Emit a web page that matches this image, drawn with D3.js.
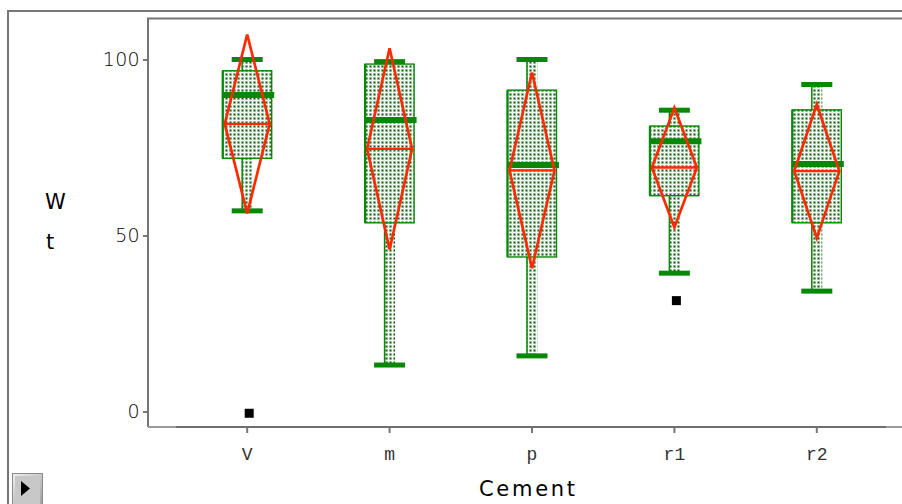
<!DOCTYPE html>
<html>
<head>
<meta charset="utf-8">
<script src="https://cdn.jsdelivr.net/npm/d3@7"></script>
<style>
  html, body { margin: 0; padding: 0; background: #fff; }
  svg { display: block; }
</style>
</head>
<body>
<svg id="chart" width="902" height="504"></svg>
<script>
// Wt by Cement: quantile boxes with mean diamonds
const categories = ["V", "m", "p", "r1", "r2"];
const whiskerLow  = [57.0, 13.2, 15.8, 39.3, 34.2];
const boxLow      = [71.9, 53.6, 43.9, 61.3, 53.6];
const medians     = [89.9, 82.8, 70.0, 76.8, 70.3];
const boxHigh     = [96.8, 98.7, 91.3, 81.1, 85.7];
const whiskerHigh = [100.0, 99.4, 100.0, 85.6, 92.9];
const means       = [81.7, 74.6, 68.5, 69.3, 68.3];
const diamondHalf = [25.4, 28.6, 27.8, 17.0, 19.0];
const outliers    = [{cat: "V", value: -0.5}, {cat: "r1", value: 31.5}];
const yTicks = [0, 50, 100];

const svg = d3.select("#chart");

const x = d3.scaleBand().domain(categories).range([176, 888]);
const y = d3.scaleLinear().domain([0, 100]).range([411.5, 59.5]);

// dotted fill pattern for boxes and whisker stems
const defs = svg.append("defs");
const pat = defs.append("pattern")
  .attr("id", "dots").attr("patternUnits", "userSpaceOnUse")
  .attr("width", 4).attr("height", 4);
pat.append("rect").attr("width", 4).attr("height", 4).attr("fill", "#bfe2bf");
pat.append("rect").attr("x", 0).attr("y", 0).attr("width", 4).attr("height", 1).attr("fill", "#f2fbf2");
pat.append("rect").attr("x", 0).attr("y", 0).attr("width", 1).attr("height", 4).attr("fill", "#f2fbf2");
pat.append("rect").attr("x", 1.5).attr("y", 1.5).attr("width", 2).attr("height", 2).attr("fill", "#4f7a4f");
pat.append("rect").attr("x", 2).attr("y", 2).attr("width", 1).attr("height", 1).attr("fill", "#264626");

const grey = "#767676";
const green = "#078807";
const red = "#ff2a00";

// outer frame
svg.append("path").attr("d", "M8,504 V11 H902")
  .attr("fill", "none").attr("stroke", grey).attr("stroke-width", 2);
// plot frame
svg.append("path").attr("d", "M148,427 V18.5 H902")
  .attr("fill", "none").attr("stroke", grey).attr("stroke-width", 2);
svg.append("line").attr("x1", 148).attr("x2", 902).attr("y1", 427).attr("y2", 427)
  .attr("stroke", "#9a9a9a").attr("stroke-width", 2);

const data = categories.map((c, i) => ({
  cat: c, wl: whiskerLow[i], bl: boxLow[i], med: medians[i], bh: boxHigh[i],
  wh: whiskerHigh[i], mean: means[i], half: diamondHalf[i]
}));

const g = svg.append("g");
const cx = d => x(d.cat) + x.bandwidth() / 2;

// whisker stems
g.selectAll(".stem").data(data).join("rect")
  .attr("x", d => cx(d) - 5.5).attr("width", 11)
  .attr("y", d => y(d.wh)).attr("height", d => y(d.wl) - y(d.wh))
  .attr("fill", "url(#dots)");
g.selectAll(".stemEdge").data(data).join("line")
  .attr("x1", d => cx(d) - 5).attr("x2", d => cx(d) - 5)
  .attr("y1", d => y(d.wh)).attr("y2", d => y(d.wl))
  .attr("stroke", green).attr("stroke-width", 1.5);

// boxes
g.selectAll(".box").data(data).join("rect")
  .attr("x", d => cx(d) - 24.5).attr("width", 49)
  .attr("y", d => y(d.bh)).attr("height", d => y(d.bl) - y(d.bh))
  .attr("fill", "url(#dots)").attr("stroke", green).attr("stroke-width", 1.4);
g.selectAll(".boxLeft").data(data).join("line")
  .attr("x1", d => cx(d) - 24.5).attr("x2", d => cx(d) - 24.5)
  .attr("y1", d => y(d.bh)).attr("y2", d => y(d.bl))
  .attr("stroke", green).attr("stroke-width", 2.2);

// whisker caps
["wh", "wl"].forEach(k => {
  g.selectAll(".cap" + k).data(data).join("line")
    .attr("x1", d => cx(d) - 15.5).attr("x2", d => cx(d) + 15.5)
    .attr("y1", d => y(d[k])).attr("y2", d => y(d[k]))
    .attr("stroke", green).attr("stroke-width", 5);
});

// medians
g.selectAll(".med").data(data).join("line")
  .attr("x1", d => cx(d) - 24.5).attr("x2", d => cx(d) + 27)
  .attr("y1", d => y(d.med)).attr("y2", d => y(d.med))
  .attr("stroke", green).attr("stroke-width", 6);

// mean diamonds
g.selectAll(".diamond").data(data).join("path")
  .attr("d", d => {
    const c = cx(d), t = y(d.mean + d.half), b = y(d.mean - d.half), m = y(d.mean);
    return `M${c},${t} L${c + 22.5},${m} L${c},${b} L${c - 22.5},${m} Z`;
  })
  .attr("fill", "none").attr("stroke", red).attr("stroke-width", 2.7)
  .attr("stroke-linejoin", "miter");
g.selectAll(".meanLine").data(data).join("line")
  .attr("x1", d => cx(d) - 22.5).attr("x2", d => cx(d) + 22.5)
  .attr("y1", d => y(d.mean)).attr("y2", d => y(d.mean))
  .attr("stroke", red).attr("stroke-width", 2.4);

// outliers
g.selectAll(".out").data(outliers).join("rect")
  .attr("x", d => cx(d) - 4.5 + 2).attr("y", d => y(d.value) - 4.5)
  .attr("width", 9).attr("height", 9).attr("fill", "#000");

// y axis
const yAxis = d3.axisLeft(y).tickValues(yTicks).tickSize(5).tickPadding(3);
const ya = svg.append("g").attr("transform", "translate(148,0)").call(yAxis);
ya.select(".domain").remove();
ya.selectAll(".tick line").attr("stroke", grey).attr("stroke-width", 2);
ya.selectAll(".tick text")
  .attr("font-family", "DejaVu Sans").attr("font-weight", 200)
  .attr("font-size", 19).attr("fill", "#000").attr("letter-spacing", 0.3);

// x axis
const xAxis = d3.axisBottom(x).tickSize(6).tickPadding(14);
const xa = svg.append("g").attr("transform", "translate(0,427)").call(xAxis);
xa.select(".domain").attr("stroke", "#6e6e6e").attr("stroke-width", 2)
  .attr("d", "M176,0 H886");
xa.selectAll(".tick line").attr("stroke", grey).attr("stroke-width", 2);
xa.selectAll(".tick text")
  .attr("font-family", "Courier New, Liberation Mono, monospace").attr("font-size", 18)
  .attr("fill", "#333");

// axis titles
svg.append("text").attr("x", 479).attr("y", 496).text("Cement")
  .attr("font-family", "DejaVu Sans").attr("font-size", 21).attr("fill", "#000")
  .attr("textLength", 96).attr("lengthAdjust", "spacing");
svg.append("text").attr("x", 45).attr("y", 209).text("W")
  .attr("font-family", "DejaVu Sans").attr("font-size", 21).attr("fill", "#000");
svg.append("text").attr("x", 46).attr("y", 249).text("t")
  .attr("font-family", "DejaVu Sans").attr("font-size", 21).attr("fill", "#000");

// disclosure button
const btn = svg.append("g");
const grad = defs.append("linearGradient").attr("id", "btnGrad")
  .attr("x1", 0).attr("y1", 0).attr("x2", 1).attr("y2", 1);
grad.append("stop").attr("offset", 0).attr("stop-color", "#f0f0f0");
grad.append("stop").attr("offset", 1).attr("stop-color", "#a0a0a0");
btn.append("rect").attr("x", 12.5).attr("y", 473.5).attr("width", 30).attr("height", 31)
  .attr("fill", "url(#btnGrad)").attr("stroke", "#8a8a8a");
btn.append("rect").attr("x", 15).attr("y", 476).attr("width", 25).attr("height", 28)
  .attr("fill", "#c8c8c8");
btn.append("path").attr("d", "M21,481 L30,488.5 L21,496 Z").attr("fill", "#000");
</script>
</body>
</html>
